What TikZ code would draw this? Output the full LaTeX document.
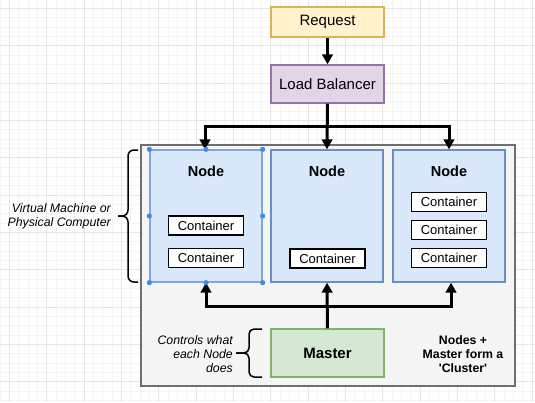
\documentclass[tikz,border=0pt]{standalone}
\usepackage{fontspec}
\newfontfamily\lib{Liberation Sans}
\usetikzlibrary{arrows.meta}
\definecolor{gminor}{HTML}{F4F4F4}
\definecolor{gmajor}{HTML}{E6E6E6}
\definecolor{reqfill}{HTML}{FFF2CC}
\definecolor{reqline}{HTML}{D6B656}
\definecolor{lbfill}{HTML}{E1D5E7}
\definecolor{lbline}{HTML}{9673A6}
\definecolor{nfill}{HTML}{DAE8FC}
\definecolor{nline}{HTML}{6C8EBF}
\definecolor{selline}{HTML}{7EA6E0}
\definecolor{seldot}{HTML}{3D8BF0}
\definecolor{mfill}{HTML}{D5E8D4}
\definecolor{mline}{HTML}{82B366}
\definecolor{cfill}{HTML}{F5F5F5}
\definecolor{cline}{HTML}{6E6E6E}
\begin{document}
\begin{tikzpicture}[x=1pt,y=-1pt,
  every node/.style={font=\lib},
  box/.style={draw, line width=1.3pt, inner sep=0pt, align=center, font=\lib\fontsize{15}{18}\selectfont},
  reqbox/.style={box, fill=reqfill, draw=reqline, minimum width=113pt, minimum height=30pt},
  lbbox/.style={box, fill=lbfill, draw=lbline, minimum width=113pt, minimum height=38pt},
  nodebox/.style={box, fill=nfill, draw=nline, minimum width=112pt, minimum height=132pt},
  mbox/.style={box, fill=mfill, draw=mline, minimum width=113pt, minimum height=48pt, font=\lib\bfseries\fontsize{15}{18}\selectfont},
  cbox/.style={draw=black, fill=white, line width=1.8pt, inner sep=0pt, minimum width=75pt, minimum height=19pt, font=\lib\fontsize{13}{15}\selectfont},
  ntitle/.style={font=\lib\bfseries\fontsize{14.5}{17}\selectfont, inner sep=0pt},
  note/.style={font=\lib\itshape\fontsize{12.3}{13.7}\selectfont, inner sep=0pt},
  arr/.style={line width=3pt, -{Triangle[width=10.5pt,length=10pt]}},
  bracket/.style={line width=1.5pt, rounded corners=6pt},
  handle/.style={fill=seldot, draw=none}
]
\useasboundingbox (0,0) rectangle (535,402);
\fill[white] (0,0) rectangle (535,402);
% grid
\foreach \i in {0,...,57} {\draw[gminor, line width=0.6pt] ({\i*9.333},0) -- ({\i*9.333},402);}
\foreach \j in {0,...,43} {\draw[gminor, line width=0.6pt] (0,{-1.03+\j*9.333}) -- (535,{-1.03+\j*9.333});}
\foreach \i in {0,...,14} {\draw[gmajor, line width=0.8pt] ({9.333+\i*37.333},0) -- ({9.333+\i*37.333},402);}
\foreach \j in {0,...,10} {\draw[gmajor, line width=0.8pt] (0,{8.3+\j*37.333}) -- (535,{8.3+\j*37.333});}

% cluster
\node[draw=cline, fill=cfill, line width=1.8pt, minimum width=374pt, minimum height=241pt, inner sep=0pt] (cluster) at (328,265.5) {};

% top
\node[reqbox] (req) at (327.5,22) {Request};
\node[lbbox] (lb) at (327.5,84) {Load Balancer};

% nodes
\node[nodebox, draw=selline] (n1) at (206,216) {};
\node[nodebox] (n2) at (327,216) {};
\node[nodebox] (n3) at (449,216) {};
\node[ntitle] (n1t) at (206,171) {Node};
\node[ntitle] (n2t) at (327,171) {Node};
\node[ntitle] (n3t) at (449,171) {Node};

\node[cbox] (n1c1) at (206,225.5) {Container};
\node[cbox] (n1c2) at (206,258) {Container};
\node[cbox] (n2c1) at (327.5,258.5) {Container};
\node[cbox] (n3c1) at (449,202) {Container};
\node[cbox] (n3c2) at (449,230) {Container};
\node[cbox] (n3c3) at (449,258) {Container};

% master
\node[mbox] (master) at (327.5,353) {Master};

% connectors top
\coordinate (busT) at (327.5,126);
\coordinate (busB) at (327.5,306);
\draw[arr] (req.south) -- (lb.north);
\draw[arr] (lb.south) -- (n2.north);
\draw[arr] (busT) -| ([xshift=-1pt]n1.north);
\draw[arr] (busT) -| (n3.north);
% connectors bottom
\draw[arr] (master.north) -- (n2.south);
\draw[arr] (busB) -| (n1.south);
\draw[arr] (busB) -| ([xshift=2pt]n3.south);

% selection handles on first node
\foreach \p in {n1.north west, n1.north, n1.north east, n1.west, n1.east, n1.south west, n1.south, n1.south east}
  {\fill[handle] (\p) circle (2.6pt);}

% left bracket
\draw[bracket] (138,150) -- (128,150) -- (128,216) -- (118,216);
\draw[bracket] (138,282) -- (128,282) -- (128,216) -- (118,216);
\node[note, align=right, anchor=east] (vm) at (111,216.5) {Virtual Machine or\\Physical Computer};

% master bracket
\draw[bracket, rounded corners=5pt] (262,329) -- (249,329) -- (249,353) -- (236,353);
\draw[bracket, rounded corners=5pt] (262,377) -- (249,377) -- (249,353) -- (236,353);
\node[note, align=right, anchor=east] (ctl) at (233,354) {Controls what\\each Node\\does};

\node[note, font=\lib\bfseries\fontsize{12.3}{13.7}\selectfont, align=center] (cl) at (463,354) {Nodes +\\Master form a\\'Cluster'};
\end{tikzpicture}
\end{document}
